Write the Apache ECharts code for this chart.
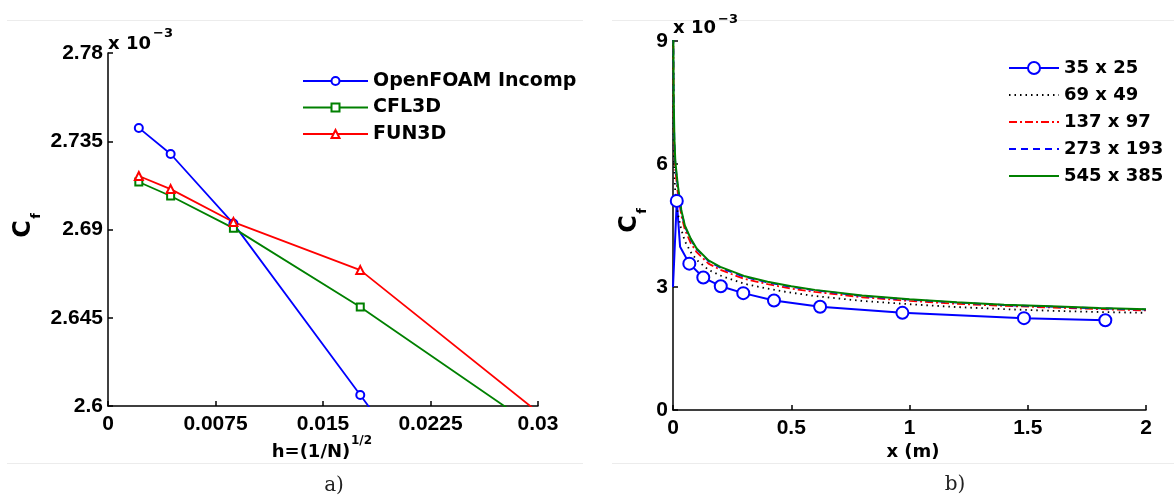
<!DOCTYPE html>
<html>
<head>
<meta charset="utf-8">
<script src="https://cdn.jsdelivr.net/npm/echarts@6/dist/echarts.min.js"></script>
<style>
html,body{margin:0;padding:0;background:#fff;}
#chart{width:1174px;height:502px;}
</style>
</head>
<body>
<div id="chart"></div>
<script>
// ---------- Panel a) grid convergence ----------
const hA = [0.00215, 0.00437, 0.00875, 0.0176, 0.035];
const openfoamCf = [2.7418, 2.7285, 2.6930, 2.6056, 2.433];
const cfl3dCf = [2.7142, 2.7071, 2.6907, 2.6505, 2.563];
const fun3dCf = [2.7173, 2.7106, 2.6938, 2.6693, 2.5676];
const xTicksA = [0, 0.0075, 0.015, 0.0225, 0.03];
const yTicksA = [2.6, 2.645, 2.69, 2.735, 2.78];
const namesA = ['OpenFOAM Incomp', 'CFL3D', 'FUN3D'];

// ---------- Panel b) Cf along the plate (values x 10^-3) ----------
const xPlate = [0, 0.001, 0.003, 0.006, 0.01, 0.02, 0.035, 0.05, 0.075, 0.1, 0.15, 0.2, 0.3, 0.4, 0.5, 0.6, 0.8, 1.0, 1.2, 1.4, 1.6, 1.8, 2.0];
const cf69 = [10.5, 8.0, 6.5, 5.7, 5.3, 4.8, 4.4, 4.12, 3.85, 3.66, 3.42, 3.28, 3.08, 2.96, 2.86, 2.78, 2.66, 2.58, 2.51, 2.46, 2.42, 2.39, 2.37];
const cf137 = [12, 9.0, 7.2, 6.3, 5.85, 5.3, 4.75, 4.4, 4.07, 3.85, 3.57, 3.42, 3.2, 3.07, 2.96, 2.88, 2.75, 2.66, 2.59, 2.54, 2.5, 2.46, 2.43];
const cf273 = [13.5, 9.4, 7.5, 6.5, 6.0, 5.45, 4.85, 4.48, 4.16, 3.92, 3.63, 3.47, 3.25, 3.11, 3.0, 2.92, 2.78, 2.69, 2.62, 2.56, 2.52, 2.48, 2.45];
const cf545 = [14, 9.6, 7.6, 6.6, 6.05, 5.5, 4.88, 4.5, 4.18, 3.94, 3.65, 3.49, 3.27, 3.13, 3.02, 2.93, 2.79, 2.70, 2.63, 2.57, 2.53, 2.49, 2.46];
const x35 = [0, 0.016, 0.03, 0.069, 0.128, 0.202, 0.297, 0.427, 0.622, 0.970, 1.484, 1.828];
const cf35 = [3.0, 5.1, 3.98, 3.57, 3.23, 3.02, 2.85, 2.67, 2.52, 2.37, 2.24, 2.19];
const xTicksB = [0, 0.5, 1, 1.5, 2];
const yTicksB = [0, 3, 6, 9];
const namesB = ['35 x 25', '69 x 49', '137 x 97', '273 x 193', '545 x 385'];

const zip = (xs, ys) => xs.map((x, i) => [x, ys[i]]);
const FONT = 'DejaVu Sans';
const TICKFONT = 'Liberation Sans';
const axisLineStyle = { color: '#000', width: 1.5 };
const labelStyle = { color: '#000', fontFamily: TICKFONT, fontWeight: 'bold', fontSize: 21 };
const noMarker35 = new Set([0, 2]);

const chart = echarts.init(document.getElementById('chart'), null, { renderer: 'canvas' });

function mkAxis(gridIndex, min, max, ticks, isY) {
  return {
    type: 'value', gridIndex, min, max,
    axisLine: { show: true, onZero: false, lineStyle: axisLineStyle },
    axisTick: { show: true, inside: true, length: 5, customValues: ticks, lineStyle: axisLineStyle },
    axisLabel: Object.assign({ customValues: ticks, margin: isY ? 5 : 8, showMinLabel: true, showMaxLabel: true }, labelStyle),
    splitLine: { show: false }
  };
}

const lineOnly = { opacity: 0 };

const option = {
  animation: false,
  backgroundColor: '#fff',
  grid: [
    { left: 108, top: 53, width: 430, height: 353, containLabel: false, outerBoundsMode: 'none' },
    { left: 673, top: 41, width: 473, height: 369, containLabel: false, outerBoundsMode: 'none' }
  ],
  xAxis: [mkAxis(0, 0, 0.03, xTicksA, false), mkAxis(1, 0, 2, xTicksB, false)],
  yAxis: [mkAxis(0, 2.6, 2.78, yTicksA, true), mkAxis(1, 0, 9, yTicksB, true)],
  legend: [
    {
      data: namesA, orient: 'vertical', left: 297, top: 66, itemWidth: 65, itemHeight: 10, itemGap: 6.5,
      selectedMode: false,
      textStyle: { color: '#000', fontFamily: FONT, fontWeight: 'bold', fontSize: 19, lineHeight: 20 }
    },
    {
      data: namesB.map((n, i) => i === 0 ? n : { name: n, itemStyle: lineOnly }),
      orient: 'vertical', left: 1003, top: 53, itemWidth: 50, itemHeight: 15, itemGap: 7,
      selectedMode: false,
      textStyle: { color: '#000', fontFamily: FONT, fontWeight: 'bold', fontSize: 18, lineHeight: 20 }
    }
  ],
  series: [
    {
      name: namesA[0], type: 'line', xAxisIndex: 0, yAxisIndex: 0, data: zip(hA, openfoamCf), clip: true,
      symbol: 'emptyCircle', symbolSize: 8, lineStyle: { color: '#0000ff', width: 1.8 },
      itemStyle: { color: '#0000ff', borderWidth: 1.5 }
    },
    {
      name: namesA[1], type: 'line', xAxisIndex: 0, yAxisIndex: 0, data: zip(hA, cfl3dCf), clip: true,
      symbol: 'emptyRect', symbolSize: 7, lineStyle: { color: '#008000', width: 1.8 },
      itemStyle: { color: '#008000', borderWidth: 1.5 }
    },
    {
      name: namesA[2], type: 'line', xAxisIndex: 0, yAxisIndex: 0, data: zip(hA, fun3dCf), clip: true,
      symbol: 'emptyTriangle', symbolSize: 8, lineStyle: { color: '#ff0000', width: 1.8 },
      itemStyle: { color: '#ff0000', borderWidth: 1.5 }
    },
    {
      name: namesB[0], type: 'line', xAxisIndex: 1, yAxisIndex: 1, clip: true,
      data: x35.map((x, i) => noMarker35.has(i) ? { value: [x, cf35[i]], symbol: 'none' } : [x, cf35[i]]),
      symbol: 'emptyCircle', symbolSize: 12, lineStyle: { color: '#0000ff', width: 2 },
      itemStyle: { color: '#0000ff', borderWidth: 2 }
    },
    {
      name: namesB[1], type: 'line', xAxisIndex: 1, yAxisIndex: 1, clip: true, symbol: 'none',
      data: zip(xPlate, cf69), lineStyle: { color: '#000', width: 1.8, type: [1.5, 4] }, itemStyle: { color: '#000' }
    },
    {
      name: namesB[2], type: 'line', xAxisIndex: 1, yAxisIndex: 1, clip: true, symbol: 'none',
      data: zip(xPlate, cf137), lineStyle: { color: '#ff0000', width: 1.8, type: [8, 3, 2, 3] }, itemStyle: { color: '#ff0000' }
    },
    {
      name: namesB[3], type: 'line', xAxisIndex: 1, yAxisIndex: 1, clip: true, symbol: 'none',
      data: zip(xPlate, cf273), lineStyle: { color: '#0000ff', width: 1.8, type: [7, 5] }, itemStyle: { color: '#0000ff' }
    },
    {
      name: namesB[4], type: 'line', xAxisIndex: 1, yAxisIndex: 1, clip: true, symbol: 'none',
      data: zip(xPlate, cf545), lineStyle: { color: '#008000', width: 2 }, itemStyle: { color: '#008000' }
    }
  ],
  graphic: [
    // table rules
    { type: 'line', shape: { x1: 7, y1: 20.5, x2: 583, y2: 20.5 }, style: { stroke: '#ececec', lineWidth: 1 }, silent: true },
    { type: 'line', shape: { x1: 612, y1: 20.5, x2: 1174, y2: 20.5 }, style: { stroke: '#ececec', lineWidth: 1 }, silent: true },
    { type: 'line', shape: { x1: 7, y1: 463.5, x2: 583, y2: 463.5 }, style: { stroke: '#ececec', lineWidth: 1 }, silent: true },
    { type: 'line', shape: { x1: 612, y1: 463.5, x2: 1174, y2: 463.5 }, style: { stroke: '#ececec', lineWidth: 1 }, silent: true },
    // exponent labels
    { type: 'text', x: 108, y: 44, style: { text: 'x 10', fill: '#000', font: 'bold 18px "DejaVu Sans"', verticalAlign: 'middle', align: 'left' } },
    { type: 'text', x: 153, y: 34, style: { text: '\u22123', fill: '#000', font: 'bold 13px "DejaVu Sans"', verticalAlign: 'middle', align: 'left' } },
    { type: 'text', x: 673, y: 28, style: { text: 'x 10', fill: '#000', font: 'bold 18px "DejaVu Sans"', verticalAlign: 'middle', align: 'left' } },
    { type: 'text', x: 718, y: 20, style: { text: '\u22123', fill: '#000', font: 'bold 13px "DejaVu Sans"', verticalAlign: 'middle', align: 'left' } },
    // axis names panel a
    { type: 'text', x: 311, y: 452, style: { text: 'h=(1/N)', fill: '#000', font: 'bold 18px "DejaVu Sans"', verticalAlign: 'middle', align: 'center' } },
    { type: 'text', x: 351, y: 441, style: { text: '1/2', fill: '#000', font: 'bold 12px "DejaVu Sans"', verticalAlign: 'middle', align: 'left' } },
    { type: 'text', x: 24, y: 229, rotation: Math.PI / 2, style: { text: 'C', fill: '#000', font: 'bold 24px "DejaVu Sans"', verticalAlign: 'middle', align: 'center' } },
    { type: 'text', x: 37, y: 216, rotation: Math.PI / 2, style: { text: 'f', fill: '#000', font: 'bold 13px "DejaVu Sans"', verticalAlign: 'middle', align: 'center' } },
    // axis names panel b
    { type: 'text', x: 913, y: 452, style: { text: 'x (m)', fill: '#000', font: 'bold 18px "DejaVu Sans"', verticalAlign: 'middle', align: 'center' } },
    { type: 'text', x: 630, y: 224, rotation: Math.PI / 2, style: { text: 'C', fill: '#000', font: 'bold 24px "DejaVu Sans"', verticalAlign: 'middle', align: 'center' } },
    { type: 'text', x: 643, y: 211, rotation: Math.PI / 2, style: { text: 'f', fill: '#000', font: 'bold 13px "DejaVu Sans"', verticalAlign: 'middle', align: 'center' } },
    // captions
    { type: 'text', x: 334, y: 486, style: { text: 'a)', fill: '#222', font: '20px "DejaVu Serif"', verticalAlign: 'middle', align: 'center' } },
    { type: 'text', x: 955, y: 485, style: { text: 'b)', fill: '#222', font: '20px "DejaVu Serif"', verticalAlign: 'middle', align: 'center' } }
  ]
};
chart.setOption(option);
</script>
</body>
</html>
